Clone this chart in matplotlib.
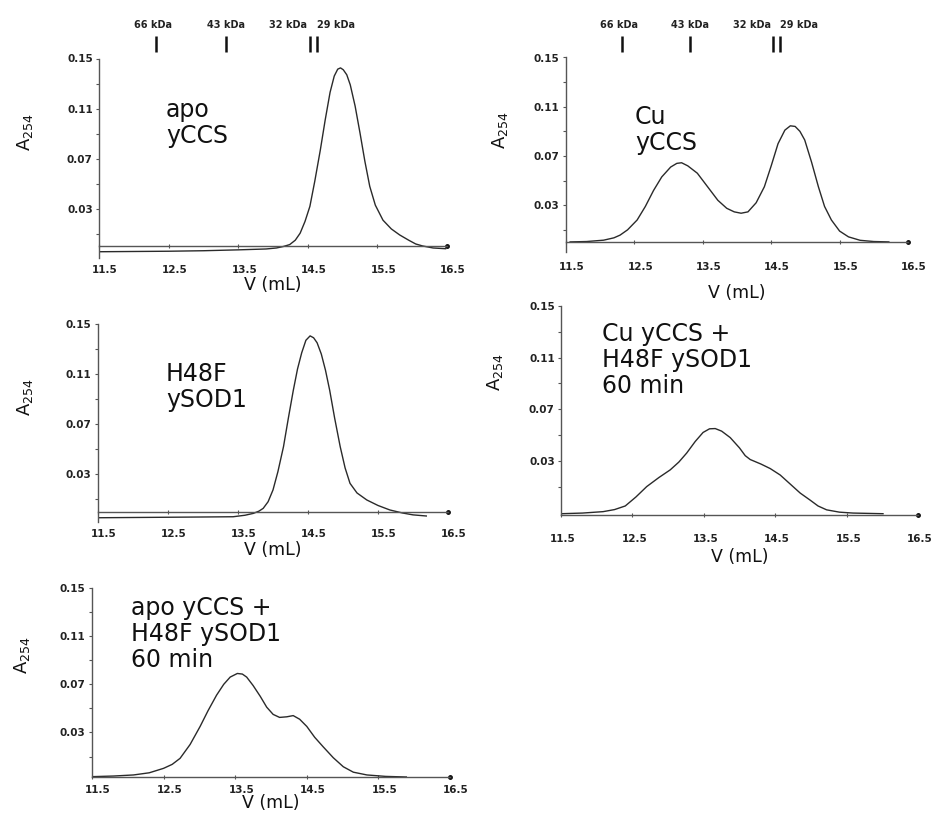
import matplotlib
matplotlib.use("Agg")
import matplotlib.pyplot as plt
import matplotlib.transforms as mtransforms

plt.rcParams['font.family'] = ['DejaVu Sans']
plt.rcParams['mathtext.default'] = 'regular'

W, H = 934, 817

# traces: elution volume (mL) and A254
apo_vol = [11.5, 12.5, 13.0, 13.5, 13.9, 14.05, 14.15, 14.24, 14.32, 14.39, 14.46, 14.53,
           14.60, 14.68, 14.75, 14.82, 14.88, 14.93, 14.97, 15.01, 15.06, 15.11, 15.18,
           15.25, 15.32, 15.39, 15.47, 15.58, 15.70, 15.82, 15.95, 16.05, 16.15, 16.30, 16.48]
apo_abs = [-0.0042, -0.0038, -0.0034, -0.0027, -0.002, -0.0012, 0.0, 0.0015, 0.005, 0.0106,
           0.020, 0.032, 0.052, 0.077, 0.101, 0.123, 0.136, 0.1415, 0.1425, 0.141, 0.137,
           0.129, 0.112, 0.0906, 0.068, 0.048, 0.033, 0.021, 0.014, 0.0092, 0.005, 0.002,
           0.0004, -0.0012, -0.0018]

cu_vol = [11.56, 11.8, 12.05, 12.2, 12.29, 12.4, 12.54, 12.66, 12.78, 12.9, 13.03, 13.12,
          13.19, 13.28, 13.42, 13.57, 13.72, 13.85, 13.96, 14.06, 14.16, 14.28, 14.40,
          14.50, 14.60, 14.70, 14.78, 14.85, 14.92, 14.99, 15.09, 15.19, 15.28, 15.38,
          15.50, 15.63, 15.80, 16.0, 16.22]
cu_abs = [0.0002, 0.0005, 0.0016, 0.0035, 0.0057, 0.010, 0.018, 0.029, 0.042, 0.053, 0.061,
          0.064, 0.0645, 0.062, 0.056, 0.045, 0.034, 0.0275, 0.0246, 0.0235, 0.0246, 0.032,
          0.045, 0.062, 0.080, 0.091, 0.0945, 0.094, 0.090, 0.083, 0.065, 0.045, 0.029,
          0.018, 0.009, 0.0043, 0.0015, 0.0005, 0.0002]

h48f_vol = [11.5, 12.5, 13.0, 13.43, 13.6, 13.72, 13.8, 13.86, 13.93, 14.0, 14.07, 14.15,
            14.22, 14.29, 14.35, 14.41, 14.47, 14.53, 14.58, 14.63, 14.69, 14.75, 14.81,
            14.88, 14.96, 15.03, 15.1, 15.2, 15.34, 15.5, 15.67, 15.85, 16.0, 16.19]
h48f_abs = [-0.0048, -0.0044, -0.0042, -0.004, -0.0028, -0.0013, 0.0005, 0.0027, 0.008,
            0.0174, 0.032, 0.052, 0.075, 0.097, 0.114, 0.127, 0.137, 0.1405, 0.139, 0.135,
            0.126, 0.113, 0.097, 0.075, 0.052, 0.035, 0.0227, 0.015, 0.0094, 0.005, 0.0014,
            -0.001, -0.0025, -0.0034]

cu_mix_vol = [11.5, 11.8, 12.09, 12.25, 12.40, 12.55, 12.70, 12.87, 13.03, 13.15, 13.26,
              13.38, 13.49, 13.58, 13.66, 13.75, 13.87, 14.0, 14.08, 14.15, 14.3, 14.43,
              14.57, 14.71, 14.85, 14.99, 15.1, 15.22, 15.4, 15.59, 16.01]
cu_mix_abs = [-0.011, -0.0105, -0.0094, -0.0078, -0.005, 0.002, 0.010, 0.017, 0.023, 0.029,
              0.036, 0.045, 0.052, 0.0548, 0.055, 0.053, 0.048, 0.040, 0.034, 0.031, 0.0275,
              0.024, 0.019, 0.012, 0.005, -0.0005, -0.005, -0.008, -0.0098, -0.0105, -0.011]

apo_mix_vol = [11.51, 11.8, 12.08, 12.3, 12.5, 12.62, 12.73, 12.87, 13.01, 13.12, 13.24,
               13.34, 13.43, 13.53, 13.6, 13.66, 13.75, 13.85, 13.94, 14.03, 14.12, 14.22,
               14.31, 14.40, 14.50, 14.61, 14.73, 14.87, 15.01, 15.15, 15.34, 15.6, 15.89]
apo_mix_abs = [-0.0067, -0.0062, -0.0053, -0.0035, 0.0002, 0.0035, 0.0085, 0.020, 0.035,
               0.048, 0.061, 0.070, 0.076, 0.079, 0.0785, 0.076, 0.069, 0.060, 0.051, 0.045,
               0.0425, 0.043, 0.044, 0.041, 0.035, 0.026, 0.018, 0.009, 0.0015, -0.003,
               -0.0053, -0.0065, -0.007]

marker_names = ["66 kDa", "43 kDa", "32 kDa", "29 kDa"]
marker_vol = [12.32, 13.32, 14.53, 14.63]
marker_label_vol = [12.28, 13.32, 14.22, 14.9]

x_ticks = [11.5, 12.5, 13.5, 14.5, 15.5, 16.5]
y_ticks = [0.03, 0.07, 0.11, 0.15]
y_minor = [0.01, 0.05, 0.09, 0.13]

line_col = '#2a2a2a'
axis_col = '#555555'


def px_rect(left, top, right, bottom):
    return [left / W, 1 - bottom / H, (right - left) / W, (bottom - top) / H]


def draw_panel(fig, rect, vol, a254, label, label_xy, ylo, at_zero, xlab_y, ylab_xy,
               pad, shift_px=6, markers=False):
    ax = fig.add_axes(px_rect(*rect))
    ax.plot(vol, a254, color=line_col, lw=1.0)
    ax.set_xlim(11.5, 16.5)
    ax.set_ylim(ylo, 0.15)
    for s in ['top', 'right']:
        ax.spines[s].set_visible(False)
    for s in ['left', 'bottom']:
        ax.spines[s].set_color(axis_col)
        ax.spines[s].set_linewidth(1.0)
    base = 0.0 if at_zero else ylo
    if at_zero:
        ax.spines['bottom'].set_position(('data', 0))
    ax.plot([16.5], [base], 'o', color='#111111', ms=2.5, clip_on=False)

    ax.set_xticks(x_ticks)
    ax.set_xticklabels([f"{v:.1f}" for v in x_ticks])
    ax.set_yticks(y_ticks)
    ax.set_yticklabels([f"{v:.2f}" for v in y_ticks])
    ax.set_yticks(y_minor, minor=True)
    ax.tick_params(axis='x', direction='inout', length=3, width=0.8, color=axis_col,
                   labelsize=7.5, pad=pad)
    ax.tick_params(axis='y', which='both', direction='out', length=2.5, width=0.8,
                   color=axis_col, labelsize=7.5, pad=2)
    shift = mtransforms.ScaledTranslation(shift_px / 100, 0, fig.dpi_scale_trans)
    for t in ax.get_xticklabels():
        t.set_fontweight('bold')
        t.set_color('#222222')
        t.set_transform(t.get_transform() + shift)
    for t in ax.get_yticklabels():
        t.set_fontweight('bold')
        t.set_color('#222222')

    fig.text(label_xy[0] / W, 1 - label_xy[1] / H, label, ha='left', va='center',
             fontsize=17, linespacing=1.12, color='#111111')
    cx = (rect[0] + rect[2]) / 2
    fig.text(cx / W, 1 - xlab_y / H, "V (mL)", ha='center', va='center',
             fontsize=12.5, color='#111111')
    fig.text(ylab_xy[0] / W, 1 - ylab_xy[1] / H, "A$_{254}$", rotation=90,
             ha='center', va='center', fontsize=13, color='#111111')

    if markers:
        trans = mtransforms.blended_transform_factory(ax.transData, ax.transAxes)
        top_px = rect[3] - rect[1]
        y0 = 1 + (rect[1] - 52) / top_px
        y1 = 1 + (rect[1] - 36) / top_px
        yl = 1 + (rect[1] - 25) / top_px
        for v in marker_vol:
            ax.plot([v, v], [y0, y1], color='#111111', lw=1.8, transform=trans,
                    clip_on=False, solid_capstyle='butt')
        for name, v in zip(marker_names, marker_label_vol):
            ax.text(v, yl, name, transform=trans, ha='center', va='center',
                    fontsize=7, fontweight='bold', color='#222222')
    return ax


fig = plt.figure(figsize=(W / 100, H / 100), dpi=100)

draw_panel(fig, (99, 58.5, 447, 258), apo_vol, apo_abs, "apo\nyCCS", (166, 123),
           -0.0092, True, 285, (25, 132), 12, markers=True)
draw_panel(fig, (566, 57.5, 908, 252), cu_vol, cu_abs, "Cu\nyCCS", (635, 130),
           -0.008, True, 293, (500, 130), 13, markers=True)
draw_panel(fig, (98, 324, 448, 522), h48f_vol, h48f_abs, "H48F\nySOD1", (166, 387),
           -0.0082, True, 550, (25, 397), 11)
draw_panel(fig, (561, 306, 918, 515), cu_mix_vol, cu_mix_abs,
           "Cu yCCS +\nH48F ySOD1\n60 min", (602, 360), -0.012, False, 557, (495, 372), 12,
           shift_px=2)
draw_panel(fig, (92, 588, 450, 777), apo_mix_vol, apo_mix_abs,
           "apo yCCS +\nH48F ySOD1\n60 min", (131, 634), -0.007, False, 803, (22, 655), 4)

fig.savefig("out.png", dpi=100)
